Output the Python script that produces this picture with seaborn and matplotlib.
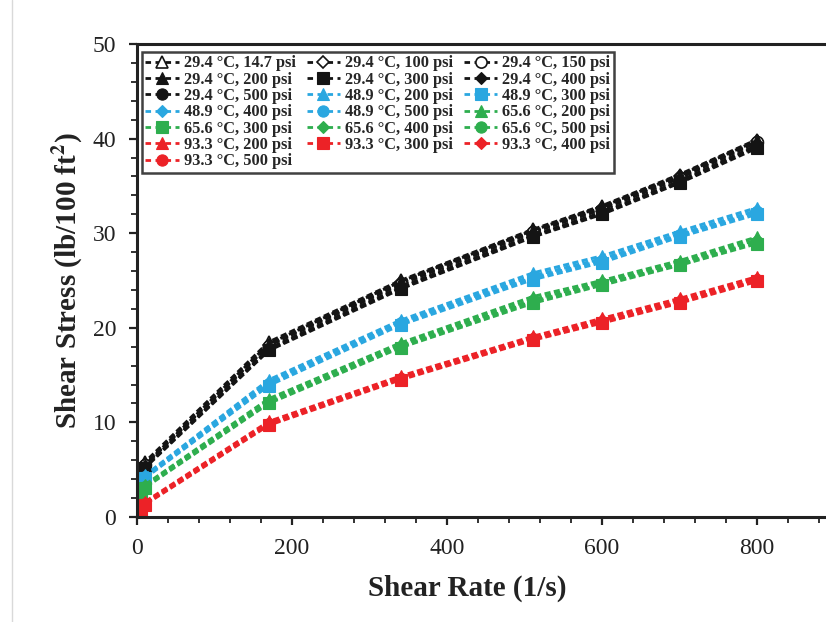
import numpy as np
import pandas as pd
import matplotlib
matplotlib.use("Agg")
import matplotlib.pyplot as plt
from matplotlib.lines import Line2D
from matplotlib.ticker import MultipleLocator
import seaborn as sns

# Shear rates (1/s)
shear_rate = [5.1, 10.2, 170, 340, 511, 600, 700, 800]

# Series labels, in legend order (row by row)
labels = [
    "29.4 °C, 14.7 psi", "29.4 °C, 100 psi", "29.4 °C, 150 psi",
    "29.4 °C, 200 psi", "29.4 °C, 300 psi", "29.4 °C, 400 psi",
    "29.4 °C, 500 psi", "48.9 °C, 200 psi", "48.9 °C, 300 psi",
    "48.9 °C, 400 psi", "48.9 °C, 500 psi", "65.6 °C, 200 psi",
    "65.6 °C, 300 psi", "65.6 °C, 400 psi", "65.6 °C, 500 psi",
    "93.3 °C, 200 psi", "93.3 °C, 300 psi", "93.3 °C, 400 psi",
    "93.3 °C, 500 psi",
]

# Shear stress (lb/100 ft^2)
t294_p14 = [4.5, 5.8, 18.5, 25.0, 30.4, 32.9, 36.2, 39.9]
t294_p100 = [4.4, 5.6, 18.2, 24.8, 30.2, 32.7, 36.0, 39.7]
t294_p150 = [4.3, 5.5, 18.1, 24.6, 30.1, 32.5, 35.8, 39.6]
t294_p200 = [4.2, 5.5, 18.3, 24.9, 30.3, 32.8, 36.1, 39.8]
t294_p300 = [4.0, 5.2, 17.6, 24.1, 29.6, 32.0, 35.3, 39.0]
t294_p400 = [4.1, 5.3, 17.8, 24.3, 29.8, 32.2, 35.5, 39.3]
t294_p500 = [4.0, 5.3, 17.7, 24.2, 29.7, 32.1, 35.4, 39.2]
t489_p200 = [3.4, 4.4, 14.5, 20.8, 25.8, 27.6, 30.2, 32.7]
t489_p300 = [3.2, 4.1, 13.9, 20.3, 25.1, 26.9, 29.6, 32.0]
t489_p400 = [3.3, 4.3, 14.3, 20.6, 25.5, 27.3, 29.9, 32.4]
t489_p500 = [3.3, 4.2, 14.1, 20.5, 25.3, 27.1, 29.8, 32.2]
t656_p200 = [2.6, 3.4, 12.5, 18.4, 23.3, 25.0, 27.1, 29.6]
t656_p300 = [2.4, 3.1, 12.0, 17.9, 22.6, 24.5, 26.6, 28.9]
t656_p400 = [2.5, 3.3, 12.3, 18.2, 23.0, 24.8, 26.9, 29.3]
t656_p500 = [2.5, 3.2, 12.1, 18.0, 22.8, 24.6, 26.7, 29.1]
t933_p200 = [0.8, 1.6, 10.1, 14.9, 19.1, 21.0, 23.1, 25.4]
t933_p300 = [0.6, 1.3, 9.7, 14.5, 18.7, 20.5, 22.6, 24.9]
t933_p400 = [0.7, 1.5, 9.9, 14.7, 18.9, 20.8, 22.9, 25.2]
t933_p500 = [0.7, 1.4, 9.8, 14.6, 18.8, 20.6, 22.7, 25.0]

stress = [
    t294_p14, t294_p100, t294_p150, t294_p200, t294_p300, t294_p400, t294_p500,
    t489_p200, t489_p300, t489_p400, t489_p500,
    t656_p200, t656_p300, t656_p400, t656_p500,
    t933_p200, t933_p300, t933_p400, t933_p500,
]

BLACK, BLUE, GREEN, RED = "#141414", "#2AA7E0", "#2EAE4E", "#EC2227"
colors = [BLACK] * 7 + [BLUE] * 4 + [GREEN] * 4 + [RED] * 4
markers = ["^", "D", "o", "^", "s", "D", "o"] + ["^", "s", "D", "o"] * 3
hollow = [True, True, True] + [False] * 16
msizes = {"^": 9, "D": 6, "o": 8.5, "s": 8.5}

df = pd.DataFrame({
    "Shear Rate": np.tile(shear_rate, len(labels)),
    "Shear Stress": np.concatenate(stress),
    "series": np.repeat(labels, len(shear_rate)),
})

sns.set_style("ticks")
plt.rcParams["font.family"] = ["Liberation Serif", "DejaVu Serif"]
plt.rcParams["mathtext.fontset"] = "stix"

fig = plt.figure(figsize=(8.26, 6.22), dpi=100)
ax = fig.add_axes([0.1659, 0.1688, 0.8444, 0.7605])

dash = (0, (2.0, 1.1))
for lab, c, m, h in zip(labels, colors, markers, hollow):
    sub = df[df["series"] == lab]
    sns.lineplot(
        data=sub, x="Shear Rate", y="Shear Stress", ax=ax,
        color=c, marker=m, markersize=msizes[m], linewidth=2.2,
        linestyle=dash, markerfacecolor="white" if h else c,
        markeredgecolor=c, markeredgewidth=1.2 if h else 0.8,
        label=lab, legend=False, estimator=None,
    )

ax.set_xlim(0, 900)
ax.set_ylim(0, 50)
ax.xaxis.set_major_locator(MultipleLocator(200))
ax.xaxis.set_minor_locator(MultipleLocator(40))
ax.yaxis.set_major_locator(MultipleLocator(10))
ax.yaxis.set_minor_locator(MultipleLocator(2))
ax.tick_params(which="major", direction="out", length=6, width=1.6,
               labelsize=17, pad=9, colors="#222222")
ax.tick_params(which="minor", direction="out", length=4, width=1.3,
               colors="#222222")
for sp in ax.spines.values():
    sp.set_linewidth(2.2)
    sp.set_color("#222222")

ax.set_xlabel("Shear Rate (1/s)", fontsize=21, fontweight="bold", color="#222222")
ax.set_ylabel("Shear Stress (lb/100 ft$^{\\mathbf{2}}$)", fontsize=21,
              fontweight="bold", color="#222222")
ax.xaxis.set_label_coords(0.473, -0.122)
ax.yaxis.label.set_va("center")
ax.yaxis.set_label_coords(-0.099, 0.5)

# legend is filled row by row; matplotlib fills columns, so reorder
ncol = 3
order = [i for c in range(ncol) for i in range(c, len(labels), ncol)]
handles = [
    Line2D([], [], color=colors[i], marker=markers[i],
           markersize=msizes[markers[i]] * 0.95, linewidth=2.0,
           linestyle=(0, (2.0, 1.6)),
           markerfacecolor="white" if hollow[i] else colors[i],
           markeredgecolor=colors[i],
           markeredgewidth=1.2 if hollow[i] else 0.8)
    for i in order
]
leg = ax.legend(
    handles, [labels[i] for i in order], ncol=ncol, loc="upper left",
    bbox_to_anchor=(0.0073, 0.983), frameon=True, fancybox=False,
    prop={"family": "Liberation Serif", "weight": "bold", "size": 11.8},
    handlelength=2.05, handletextpad=0.3, columnspacing=0.65,
    labelspacing=0.02, borderpad=0.2, borderaxespad=0.0,
)
leg.get_frame().set_edgecolor("#111111")
leg.get_frame().set_linewidth(1.8)

# thin page border on the left
fig.add_artist(Line2D([0.0145, 0.0145], [0.0, 1.0], transform=fig.transFigure,
                      color="#d9d9d9", linewidth=1.0))

fig.savefig("out.png", dpi=100)
